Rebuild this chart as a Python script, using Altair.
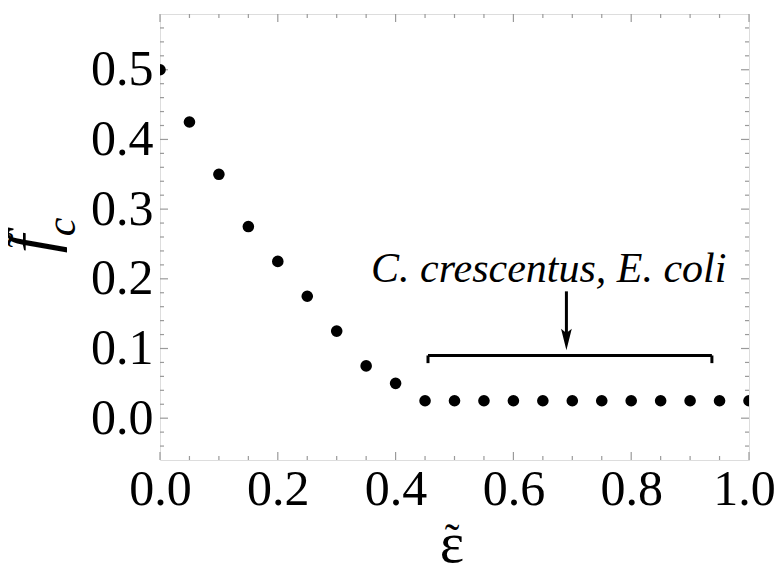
import altair as alt
import pandas as pd

# ---- data ----
eps = [0.0, 0.05, 0.10, 0.15, 0.20, 0.25, 0.30, 0.35, 0.40, 0.45, 0.50,
       0.55, 0.60, 0.65, 0.70, 0.75, 0.80, 0.85, 0.90, 0.95, 1.00]
fc = [0.5, 0.425, 0.35, 0.275, 0.225, 0.175, 0.125, 0.075, 0.05, 0.025, 0.025,
      0.025, 0.025, 0.025, 0.025, 0.025, 0.025, 0.025, 0.025, 0.025, 0.025]

x_major = [0.0, 0.2, 0.4, 0.6, 0.8, 1.0]
x_minor = [0.05, 0.1, 0.15, 0.25, 0.3, 0.35, 0.45, 0.5, 0.55, 0.65, 0.7, 0.75,
           0.85, 0.9, 0.95]
y_major = [0.0, 0.1, 0.2, 0.3, 0.4, 0.5]
y_minor = [-0.04, -0.02, 0.02, 0.04, 0.06, 0.08, 0.12, 0.14, 0.16, 0.18, 0.22,
           0.24, 0.26, 0.28, 0.32, 0.34, 0.36, 0.38, 0.42, 0.44, 0.46, 0.48,
           0.52, 0.54, 0.56]

# annotation (bracket + arrow) in data coordinates
bracket_x = [0.455, 0.455, 0.937, 0.69]
bracket_x2 = [0.937, 0.455, 0.937, 0.69]
bracket_y = [0.09, 0.09, 0.09, 0.182]
bracket_y2 = [0.09, 0.079, 0.079, 0.112]
label_text = ["C. crescentus, E. coli"]
label_x = [0.66]
label_y = [0.195]
arrow_x = [0.69]
arrow_y = [0.113]

W, H = 589, 446
FONT = "Liberation Serif"
GRAY = "#9a9a9a"

xs = alt.Scale(domain=[0, 1], nice=False, zero=False)
ys = alt.Scale(domain=[-0.06, 0.58], nice=False, zero=False)

xaxis = alt.Axis(values=x_major, format=".1f", title=None, domain=False,
                 ticks=False, tickSize=0, grid=False, labelFont=FONT,
                 labelFontSize=50, labelColor="black", labelPadding=4,
                 labelFlush=False,
                 labelOffset={"condition": {"test": "datum.value >= 1", "value": -5},
                              "value": 0})
yaxis = alt.Axis(values=y_major, format=".1f", title=None, domain=False,
                 ticks=False, tickSize=0, grid=False, labelFont=FONT,
                 labelFontSize=50, labelColor="black", labelPadding=7,
                 labelFlush=False)

X = lambda f: alt.X(f, scale=xs, axis=xaxis)
Y = lambda f: alt.Y(f, scale=ys, axis=yaxis)

pts = pd.DataFrame({"eps": eps, "fc": fc})

points = alt.Chart(pts).mark_circle(size=135, color="black", opacity=1, clip=True).encode(
    x=X("eps:Q"), y=Y("fc:Q"))

# ---- inside ticks on all four sides ----
def xticks(vals, length):
    df = pd.DataFrame({"v": vals})
    bottom = alt.Chart(df).mark_rule(color=GRAY, strokeWidth=1.2).encode(
        x=X("v:Q"), y=alt.value(H), y2=alt.value(H - length))
    top = alt.Chart(df).mark_rule(color=GRAY, strokeWidth=1.2).encode(
        x=X("v:Q"), y=alt.value(0), y2=alt.value(length))
    return [bottom, top]

def yticks(vals, length):
    df = pd.DataFrame({"v": vals})
    left = alt.Chart(df).mark_rule(color=GRAY, strokeWidth=1.2).encode(
        y=Y("v:Q"), x=alt.value(0), x2=alt.value(length))
    right = alt.Chart(df).mark_rule(color=GRAY, strokeWidth=1.2).encode(
        y=Y("v:Q"), x=alt.value(W), x2=alt.value(W - length))
    return [left, right]

tick_layers = xticks(x_major, 8) + xticks(x_minor, 4) + yticks(y_major, 8) + yticks(y_minor, 4)

# ---- annotation ----
br = pd.DataFrame({"x": bracket_x, "x2": bracket_x2, "y": bracket_y, "y2": bracket_y2})
bracket = alt.Chart(br).mark_rule(color="black", strokeWidth=3).encode(
    x=X("x:Q"), x2="x2:Q", y=Y("y:Q"), y2="y2:Q")

arr = pd.DataFrame({"x": arrow_x, "y": arrow_y})
arrowhead = alt.Chart(arr).mark_point(
    shape="M0,1 L-0.5,-1 L0,-0.6 L0.5,-1 Z", size=460, filled=True,
    color="black", opacity=1, strokeWidth=0).encode(x=X("x:Q"), y=Y("y:Q"))

lab = pd.DataFrame({"x": label_x, "y": label_y, "t": label_text})
label = alt.Chart(lab).mark_text(font=FONT, fontStyle="italic", fontSize=42,
                                 align="center", baseline="alphabetic",
                                 color="black").encode(
    x=X("x:Q"), y=Y("y:Q"), text="t:N")

# ---- axis titles (f~_c and epsilon~) ----
one = pd.DataFrame({"a": [0]})

def txt(s, x, y, size, angle=0, style="italic"):
    return alt.Chart(one).mark_text(font=FONT, fontStyle=style, fontSize=size,
                                    align="center", baseline="middle",
                                    angle=angle, color="black").encode(
        x=alt.value(x), y=alt.value(y), text=alt.value(s))

titles = [
    txt("f", -127, 230, 66, 270),
    txt("\u02dc", -137, 226, 45, 270, "normal"),
    txt("c", -98, 213, 42, 270),
    txt("\u03b5", 292, 531, 58, 0, "normal"),
    txt("\u02dc", 292, 527, 44, 0, "normal"),
]

chart = alt.layer(*tick_layers, bracket, arrowhead, label, points, *titles).properties(
    width=W, height=H,
    padding={"left": 152, "top": 6, "right": 27, "bottom": 104},
    autosize=alt.AutoSizeParams(type="none"),
).configure_view(stroke=GRAY, strokeWidth=1.5).configure(background="white")

chart.save("out.html", embed_options={"renderer": "svg", "actions": False})
